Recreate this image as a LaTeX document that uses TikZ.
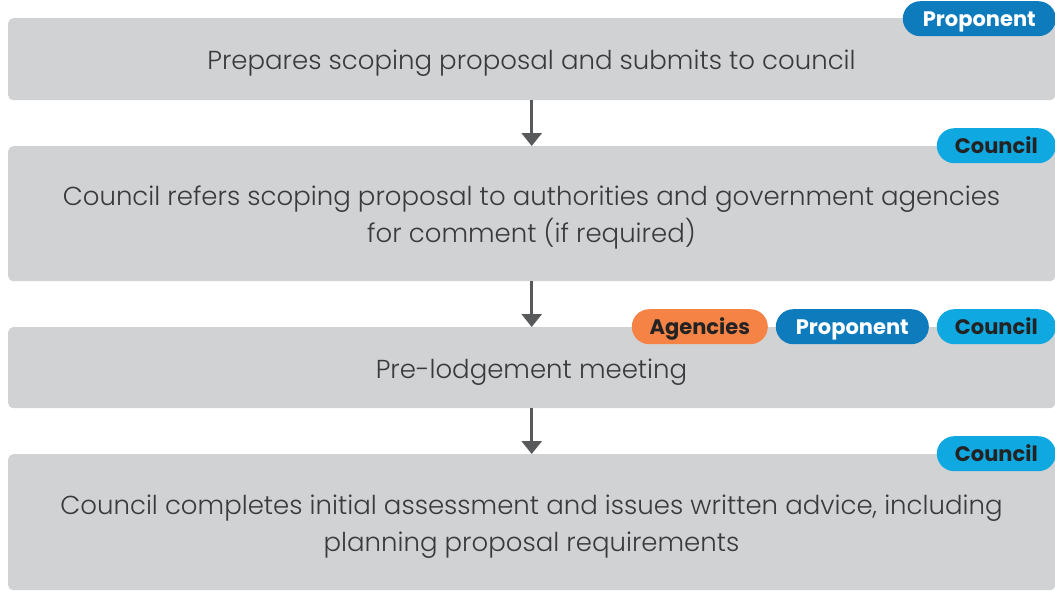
\documentclass[tikz,border=0pt]{standalone}
\usepackage{fontspec}
\setmainfont{Poppins}[UprightFont=* Light, BoldFont=* Bold]
\usetikzlibrary{arrows.meta}
\definecolor{boxgray}{HTML}{D1D2D4}
\definecolor{arrgray}{HTML}{58595B}
\definecolor{propblue}{HTML}{0E7BBD}
\definecolor{councilblue}{HTML}{10A8E0}
\definecolor{agorange}{HTML}{F58345}
\definecolor{txtdark}{HTML}{3A3A3C}
\tikzset{
  stepbox/.style={fill=boxgray, draw=none, rounded corners=5pt, minimum width=1047pt, anchor=north west, inner sep=0pt},
  steptext/.style={font=\fontsize{26}{37}\selectfont, text=txtdark, align=center},
  pill/.style={draw=none, rounded corners=17.5pt, minimum height=35pt, inner sep=0pt, font=\fontsize{21}{22}\selectfont\bfseries, anchor=north east, text height=16.5pt, text depth=1.5pt},
  proptag/.style={pill, fill=propblue, text=white},
  counciltag/.style={pill, fill=councilblue, text=txtdark!60!black},
  agtag/.style={pill, fill=agorange, text=txtdark!60!black},
  arr/.style={draw=arrgray, line width=3pt, -{Triangle[width=20pt,length=13pt]}}
}
\begin{document}
\begin{tikzpicture}[x=1pt,y=-1pt]
\useasboundingbox (0,0) rectangle (1055,590);
% boxes
\node[stepbox, minimum height=82pt] (b1) at (8,18) {};
\node[stepbox, minimum height=135pt] (b2) at (8,146) {};
\node[stepbox, minimum height=81pt] (b3) at (8,327) {};
\node[stepbox, minimum height=136pt] (b4) at (8,454) {};
% texts
\node[steptext] (t1) at (531.5,63) {Prepares scoping proposal and submits to council};
\node[steptext] (t2) at (531.5,218) {Council refers scoping proposal to authorities and government agencies\\for comment (if required)};
\node[steptext] (t3) at (531.5,372) {Pre-lodgement meeting};
\node[steptext] (t4) at (531.5,526.5) {Council completes initial assessment and issues written advice, including\\planning proposal requirements};
% arrows
\draw[arr] (b1.south) -- (b2.north);
\draw[arr] (b2.south) -- (b3.north);
\draw[arr] (b3.south) -- (b4.north);
% tags
\node[proptag, minimum width=153pt] (p1) at (1056,1) {Proponent};
\node[counciltag, minimum width=119pt] (c2) at (1056,128) {Council};
\node[counciltag, minimum width=119pt] (c3) at (1056,309) {Council};
\node[proptag, minimum width=153pt] (p3) at (929,309) {Proponent};
\node[agtag, minimum width=136pt] (a3) at (768,309) {Agencies};
\node[counciltag, minimum width=119pt] (c4) at (1056,436) {Council};
\end{tikzpicture}
\end{document}
